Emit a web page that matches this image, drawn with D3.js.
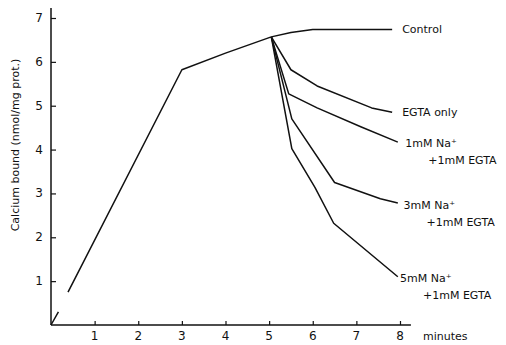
<!DOCTYPE html>
<html>
<head>
<meta charset="utf-8">
<script src="https://cdn.jsdelivr.net/npm/d3@7"></script>
<style>
  body { margin: 0; background: #fff; }
  text { font-family: "DejaVu Sans", sans-serif; fill: #111; }
</style>
</head>
<body>
<div id="chart"></div>
<script>
// calcium bound (nmol/mg prot.) vs minutes
var rise = [[0, 0], [0.17, 0.3], null, [0.39, 0.75], [3, 5.82], [4, 6.2], [5.05, 6.57]];
var control = [[5.05, 6.57], [5.5, 6.67], [6, 6.74], [7, 6.74], [7.82, 6.74]];
var egtaOnly = [[5.05, 6.57], [5.5, 5.82], [6.1, 5.45], [7.35, 4.95], [7.82, 4.85]];
var na1 = [[5.05, 6.57], [5.45, 5.27], [6.1, 4.95], [7.1, 4.52], [7.95, 4.17]];
var na3 = [[5.05, 6.57], [5.52, 4.7], [6.5, 3.25], [7.55, 2.88], [7.95, 2.78]];
var na5 = [[5.05, 6.57], [5.52, 4.02], [6.05, 3.14], [6.48, 2.32], [7.95, 1.1]];

var xTicks = [1, 2, 3, 4, 5, 6, 7, 8];
var yTicks = [1, 2, 3, 4, 5, 6, 7];

var labels = [
  { lines: ["Control"], t: 8.05, v: 6.74 },
  { lines: ["EGTA  only"], t: 8.05, v: 4.85 },
  { lines: ["1mM  Na\u207a", "+1mM  EGTA"], t: 8.12, v: 4.15 },
  { lines: ["3mM  Na\u207a", "+1mM  EGTA"], t: 8.08, v: 2.74 },
  { lines: ["5mM  Na\u207a", "+1mM  EGTA"], t: 8.0, v: 1.07 }
];

var width = 506, height = 345;
var svg = d3.select("#chart").append("svg")
  .attr("width", width)
  .attr("height", height);

var x = d3.scaleLinear().domain([0, 8]).range([51, 400]);
var y = d3.scaleLinear().domain([0, 7]).range([325, 18]);

// inward ticks, domain lines drawn separately
var xAxis = d3.axisTop(x).tickValues(xTicks).tickSize(4).tickFormat("");
var yAxis = d3.axisRight(y).tickValues(yTicks).tickSize(5).tickFormat("");

svg.append("g").attr("transform", "translate(0," + y(0) + ")").call(xAxis)
  .call(g => g.select(".domain").remove());
svg.append("g").attr("transform", "translate(" + x(0) + ",0)").call(yAxis)
  .call(g => g.select(".domain").remove());

svg.selectAll(".tick line").attr("stroke", "#111").attr("stroke-width", 1.2);

svg.append("line")
  .attr("x1", x(0)).attr("x2", x(8.25))
  .attr("y1", y(0)).attr("y2", y(0))
  .attr("stroke", "#111").attr("stroke-width", 1.5);
svg.append("line")
  .attr("x1", x(0)).attr("x2", x(0))
  .attr("y1", y(0)).attr("y2", y(7.23))
  .attr("stroke", "#111").attr("stroke-width", 1.5);

svg.selectAll(".xlab").data(xTicks).enter().append("text")
  .attr("x", d => x(d)).attr("y", y(0) + 15)
  .attr("text-anchor", "middle")
  .attr("font-size", 12)
  .text(d => d);

svg.selectAll(".ylab").data(yTicks).enter().append("text")
  .attr("x", x(0) - 8).attr("y", d => y(d) + 4)
  .attr("text-anchor", "end")
  .attr("font-size", 12)
  .text(d => d);

svg.append("text")
  .attr("x", 423).attr("y", y(0) + 15)
  .attr("font-size", 11)
  .text("minutes");

svg.append("text")
  .attr("transform", "translate(19,145) rotate(-90)")
  .attr("text-anchor", "middle")
  .attr("font-size", 11)
  .text("Calcium  bound  (nmol/mg  prot.)");

var line = d3.line()
  .defined(d => d != null)
  .x(d => x(d[0]))
  .y(d => y(d[1]));

[rise, control, egtaOnly, na1, na3, na5].forEach(function (s) {
  svg.append("path")
    .datum(s)
    .attr("d", line)
    .attr("fill", "none")
    .attr("stroke", "#111")
    .attr("stroke-width", 1.5)
    .attr("stroke-linejoin", "round");
});

labels.forEach(function (l) {
  l.lines.forEach(function (txt, i) {
    svg.append("text")
      .attr("x", x(l.t) + (i ? 23 : 0))
      .attr("y", y(l.v) + 4 + i * 17)
      .attr("font-size", 11)
      .text(txt);
  });
});
</script>
</body>
</html>
